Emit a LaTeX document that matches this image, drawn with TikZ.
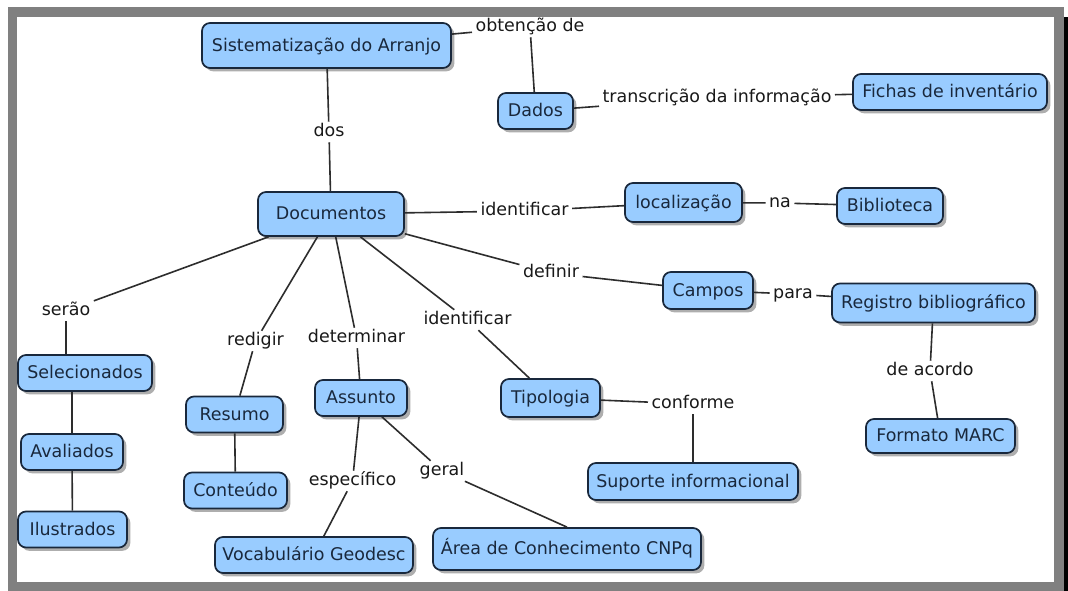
\documentclass[tikz,border=0pt]{standalone}
\usepackage{fontspec}
\setmainfont{DejaVu Sans}
\usetikzlibrary{shadows,backgrounds}

\definecolor{conceptfill}{RGB}{153,204,255}
\definecolor{conceptline}{RGB}{25,40,60}
\definecolor{linecol}{RGB}{45,45,45}
\definecolor{linktext}{RGB}{25,25,25}
\definecolor{framegray}{RGB}{128,128,128}

\begin{document}
\begin{tikzpicture}
        [x=0.75pt, y=-0.75pt,
        font=\fontsize{13.1}{15}\selectfont,
        concept/.style={draw=conceptline, line width=1.3pt, fill=conceptfill, text=conceptline,
                rounded corners=6pt, minimum height=27pt, inner xsep=3pt,
                text height=1.05em, text depth=0.2em,
                drop shadow={shadow xshift=2.5pt, shadow yshift=-2.5pt, fill=black!45, opacity=.7}},
        link/.style={inner xsep=2.5pt, inner ysep=1.5pt, text height=0.95em, text depth=0.25em, text=linktext},
        conn/.style={draw=linecol, line width=1.2pt}]

        \useasboundingbox (0,0) rectangle (1068,591);

        \node[concept, minimum width=186.75pt, minimum height=33.75pt] (sist) at (326.5,45.5) {Sistematização do Arranjo};
        \node[concept, minimum width=56.25pt] (dados) at (535.5,111) {Dados};
        \node[concept, minimum width=145.5pt] (fichas) at (950,92) {Fichas de inventário};
        \node[concept, minimum width=109.5pt, minimum height=33pt] (doc) at (331,214) {Documentos};
        \node[concept, minimum width=87.75pt, minimum height=29.25pt] (local) at (683.5,202.5) {localização};
        \node[concept, minimum width=79.5pt] (biblio) at (890,206) {Biblioteca};
        \node[concept, minimum width=67.5pt, minimum height=27.75pt] (campos) at (708,290.5) {Campos};
        \node[concept, minimum width=152.25pt, minimum height=29.25pt] (registro) at (933.5,303) {Registro bibliográfico};
        \node[concept, minimum width=111.75pt, minimum height=25.5pt] (marc) at (940.5,436) {Formato MARC};
        \node[concept, minimum width=100.5pt] (selec) at (85,373) {Selecionados};
        \node[concept, minimum width=76.5pt] (aval) at (72,452) {Avaliados};
        \node[concept, minimum width=81.75pt] (ilust) at (72.5,529.5) {Ilustrados};
        \node[concept, minimum width=72.75pt] (resumo) at (234.5,414.5) {Resumo};
        \node[concept, minimum width=77.25pt] (conteudo) at (235.5,490.5) {Conteúdo};
        \node[concept, minimum width=69pt] (assunto) at (361,398) {Assunto};
        \node[concept, minimum width=74.25pt, minimum height=28.5pt] (tipo) at (550.5,398) {Tipologia};
        \node[concept, minimum width=157.5pt, minimum height=27.75pt] (suporte) at (693,481.5) {Suporte informacional};
        \node[concept, minimum width=148.5pt] (vocab) at (314,555) {Vocabulário Geodesc};
        \node[concept, minimum width=201pt, minimum height=31.5pt] (area) at (567,549) {Área de Conhecimento CNPq};

        \node[link] (obt) at (530,27) {obtenção de};
        \node[link] (dos) at (329,132) {dos};
        \node[link] (transc) at (717,97.5) {transcrição da informação};
        \node[link] (ident1) at (524.5,211) {identificar};
        \node[link] (na) at (780,203) {na};
        \node[link] (definir) at (551,273) {definir};
        \node[link] (para) at (793,294) {para};
        \node[link] (acordo) at (930,371) {de acordo};
        \node[link] (serao) at (66,311) {serão};
        \node[link] (redigir) at (255.5,341) {redigir};
        \node[link] (determ) at (356.5,338) {determinar};
        \node[link] (ident2) at (467.5,320) {identificar};
        \node[link] (conforme) at (693,404) {conforme};
        \node[link] (espec) at (352.5,481) {específico};
        \node[link] (geral) at (442,471) {geral};

        \draw[conn] (sist) -- (obt);
        \draw[conn] (obt) -- (dados);
        \draw[conn] (sist) -- (dos);
        \draw[conn] (dos) -- (doc);
        \draw[conn] (dados) -- (transc);
        \draw[conn] (transc) -- (fichas);
        \draw[conn] (doc) -- (ident1);
        \draw[conn] (ident1) -- (local);
        \draw[conn] (local) -- (na);
        \draw[conn] (na) -- (biblio);
        \draw[conn] (doc) -- (definir);
        \draw[conn] (definir) -- (campos);
        \draw[conn] (campos) -- (para);
        \draw[conn] (para) -- (registro);
        \draw[conn] (registro) -- (acordo);
        \draw[conn] (acordo) -- (marc);
        \draw[conn] (doc) -- (serao);
        \draw[conn] (serao) -- (serao |- selec.north);
        \draw[conn] (aval |- selec.south) -- (aval);
        \draw[conn] (aval) -- (ilust);
        \draw[conn] (doc) -- (redigir);
        \draw[conn] (redigir) -- (resumo);
        \draw[conn] (resumo) -- (conteudo);
        \draw[conn] (doc) -- (determ);
        \draw[conn] (determ) -- (assunto);
        \draw[conn] (assunto) -- (espec);
        \draw[conn] (espec) -- (vocab);
        \draw[conn] (assunto) -- (geral);
        \draw[conn] (geral) -- (area.north);
        \draw[conn] (doc) -- (ident2);
        \draw[conn] (ident2) -- (tipo);
        \draw[conn] (tipo) -- (conforme);
        \draw[conn] (conforme) -- (suporte);

        \begin{scope}[on background layer]
                \fill[white] (0,0) rectangle (1068,591);
                \fill[framegray] (8,7) rectangle (1064,591);
                \fill[white] (17,17) rectangle (1054,582);
                \fill[black] (1064,17) rectangle (1068,591);
        \end{scope}
\end{tikzpicture}
\end{document}
